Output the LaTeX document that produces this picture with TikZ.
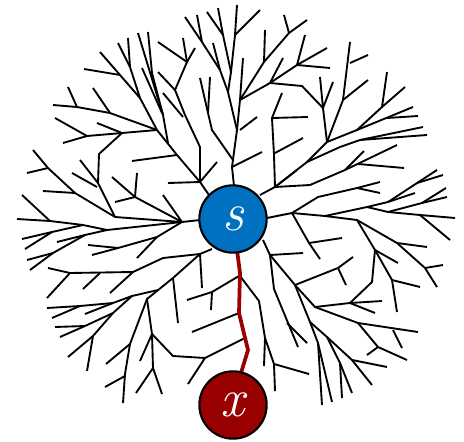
\documentclass[tikz,border=0pt]{standalone}
\usepackage{fontspec}
\definecolor{rootblue}{HTML}{0070C0}
\definecolor{goalred}{HTML}{990000}

\begin{document}
\begin{tikzpicture}[x=0.03cm,y=-0.03cm,
        branch/.style={line width=1.6pt,line join=round},
        redpath/.style={goalred,line width=3.2pt,line join=round},
        vertex/.style={circle,draw=black,line width=1.8pt,minimum size=2.02cm,inner sep=0pt,text=white,font=\fontsize{46}{50}\selectfont\itshape}]
        \useasboundingbox (0,0) rectangle (464,442);
        \coordinate (sc) at (233,219);
        \coordinate (xc) at (233,405);

        \begin{scope}[branch]
        \draw (234,186) -- (232,167) -- (237,130) -- (228,92) -- (231,72) -- (235,35) -- (237,5);
        \draw (235,35) -- (260,10);
        \draw (231,72) -- (223,35) -- (207,12);
        \draw (223,35) -- (218,8);
        \draw (228,92) -- (220,70) -- (202,42) -- (185,17);
        \draw (197,15) -- (202,42);
        \draw (213,43) -- (220,70);
        \draw (237,130) -- (240,100) -- (243,58);
        \draw (240,130) -- (257,117);
        \draw (232,167) -- (262,152);
        \draw (233,160) -- (212,130) -- (208,113) -- (200,78);
        \draw (208,113) -- (210,77);

        \draw (240,100) -- (264,62) -- (289,33) -- (307,20);
        \draw (265,30) -- (264,62);
        \draw (284,15) -- (289,33);
        \draw (240,100) -- (270,83) -- (302,86) -- (323,108) -- (327,142);
        \draw (270,83) -- (297,65) -- (305,35);
        \draw (297,65) -- (327,48);
        \draw (297,65) -- (330,68);
        \draw (283,58) -- (270,83);
        \draw (320,77) -- (323,108) -- (333,82);
        \draw (275,187) -- (274,155) -- (272,118) -- (282,93);
        \draw (272,118) -- (308,117);
        \draw (275,153) -- (303,138);
        \draw (275,187) -- (297,170);
        \draw (260,195) -- (275,187) -- (310,185) -- (345,170) -- (364,151);
        \draw (345,170) -- (397,145);
        \draw (358,164) -- (404,168);
        \draw (275,187) -- (307,162) -- (327,142) -- (357,130) -- (382,107) -- (405,87);
        \draw (327,142) -- (343,100) -- (350,42);
        \draw (350,63) -- (368,55);
        \draw (343,100) -- (368,80);
        \draw (382,107) -- (387,72);
        \draw (357,130) -- (413,107);
        \draw (387,118) -- (418,116);
        \draw (307,162) -- (340,147) -- (360,140) -- (423,127);
        \draw (360,140) -- (427,135);

        \draw (267,218) -- (292,213) -- (318,197) -- (357,188) -- (380,182);
        \draw (357,188) -- (380,193);
        \draw (292,213) -- (325,216) -- (367,207) -- (388,212) -- (420,215) -- (455,218);
        \draw (388,212) -- (422,203) -- (446,188);
        \draw (422,203) -- (447,197);
        \draw (420,215) -- (450,240);
        \draw (367,207) -- (388,202) -- (415,193);
        \draw (388,202) -- (437,170);
        \draw (417,183) -- (443,175);
        \draw (292,213) -- (309,243) -- (320,259);
        \draw (309,243) -- (342,238);
        \draw (325,216) -- (357,220) -- (375,250) -- (372,282) -- (350,303) -- (315,307);
        \draw (375,250) -- (398,263);
        \draw (375,250) -- (392,280) -- (397,312);
        \draw (392,280) -- (420,287);
        \draw (357,220) -- (397,243) -- (425,268) -- (437,287);
        \draw (397,243) -- (427,247);
        \draw (425,268) -- (443,265);
        \draw (350,303) -- (382,301);
        \draw (350,303) -- (375,313);

        \draw (263,240) -- (270,255) -- (295,285) -- (315,307) -- (358,323) -- (418,332);
        \draw (393,330) -- (402,348);
        \draw (358,323) -- (378,347) -- (407,360);
        \draw (367,355) -- (378,347);
        \draw (270,255) -- (303,253);
        \draw (295,285) -- (338,268) -- (353,257);
        \draw (338,268) -- (346,285);
        \draw (295,285) -- (310,322) -- (327,337) -- (352,360) -- (372,385);
        \draw (352,360) -- (387,367);
        \draw (327,337) -- (340,363) -- (352,393);
        \draw (340,363) -- (342,398);
        \draw (310,322) -- (318,343) -- (322,405);
        \draw (318,343) -- (332,402);
        \draw (270,255) -- (274,289) -- (298,347);
        \draw (287,323) -- (307,343);

        \draw (240,276) -- (259,301) -- (265,338) -- (274,364) -- (275,391);
        \draw (265,338) -- (264,366);
        \draw (274,364) -- (309,374);
        \draw (239,276) -- (212,292) -- (187,300);
        \draw (212,292) -- (211,310);
        \draw (239,313) -- (192,332);
        \draw (245,338) -- (205,358) -- (173,356) -- (152,334);
        \draw (205,358) -- (188,384);

        \draw (212,249) -- (200,254) -- (173,278) -- (147,299) -- (130,344) -- (125,374) -- (123,403);
        \draw (106,364) -- (130,344);
        \draw (105,387) -- (125,376);
        \draw (173,278) -- (178,323);
        \draw (200,254) -- (202,288);
        \draw (200,254) -- (163,258) -- (133,272) -- (70,273) -- (48,268);
        \draw (70,273) -- (47,298);
        \draw (83,289) -- (100,273);
        \draw (110,293) -- (133,272);
        \draw (158,290) -- (132,296) -- (113,303) -- (80,306) -- (47,308);
        \draw (52,318) -- (80,306);
        \draw (85,314) -- (113,303);
        \draw (132,296) -- (113,313) -- (85,326) -- (55,327);
        \draw (60,337) -- (85,326);
        \draw (113,313) -- (93,336) -- (68,357);
        \draw (87,371) -- (93,336);
        \draw (147,299) -- (152,334) -- (153,368) -- (162,394);
        \draw (140,361) -- (152,334);
        \draw (136,393) -- (153,368);

        \draw (200,220) -- (182,222);
        \draw (182,222) -- (115,217) -- (75,193) -- (48,168) -- (33,150);
        \draw (27,173) -- (48,168);
        \draw (43,191) -- (75,193);
        \draw (115,217) -- (98,183) -- (99,154) -- (122,133);
        \draw (80,160) -- (98,183);
        \draw (72,173) -- (97,187);
        \draw (182,222) -- (135,197) -- (112,177);
        \draw (137,173) -- (135,197);
        \draw (115,202) -- (135,197);
        \draw (182,222) -- (163,195);
        \draw (182,222) -- (107,230) -- (83,225) -- (50,221) -- (17,219);
        \draw (22,195) -- (50,221);
        \draw (83,225) -- (52,232) -- (22,239);
        \draw (25,249) -- (52,232);
        \draw (107,230) -- (85,235) -- (57,242);
        \draw (85,235) -- (53,253) -- (27,260);
        \draw (30,270) -- (53,253);
        \draw (182,222) -- (157,237) -- (118,248) -- (88,245);
        \draw (92,255) -- (118,248);
        \draw (137,258) -- (157,237);

        \draw (209,195) -- (200,182) -- (177,155) -- (157,130) -- (140,98) -- (120,75) -- (100,52);
        \draw (200,182) -- (217,162);
        \draw (200,182) -- (168,183);
        \draw (177,155) -- (132,161);
        \draw (120,75) -- (84,69);
        \draw (140,98) -- (130,67) -- (118,43);
        \draw (130,67) -- (128,38);
        \draw (157,130) -- (122,133) -- (87,136) -- (55,118);
        \draw (63,143) -- (87,136);
        \draw (97,123) -- (122,133);
        \draw (157,130) -- (110,113) -- (77,107) -- (53,105);
        \draw (68,87) -- (77,107);
        \draw (93,88) -- (110,113);
        \draw (200,182) -- (200,147) -- (185,115) -- (175,90) -- (187,62) -- (195,48);
        \draw (158,42) -- (187,62);
        \draw (183,38) -- (187,62);
        \draw (158,72) -- (175,90);
        \draw (183,117) -- (163,93);
        \draw (168,143) -- (163,115) -- (152,73) -- (148,32);
        \draw (138,33) -- (163,115);
        \draw (142,68) -- (162,113);
        \end{scope}

        \draw[redpath] (sc) -- (240,273) -- (239,313) -- (248,350) -- (241,373) -- (xc);

        \node[vertex,fill=rootblue] (s) at (sc) {s};
        \node[vertex,fill=goalred] (x) at (xc) {x};
\end{tikzpicture}
\end{document}
